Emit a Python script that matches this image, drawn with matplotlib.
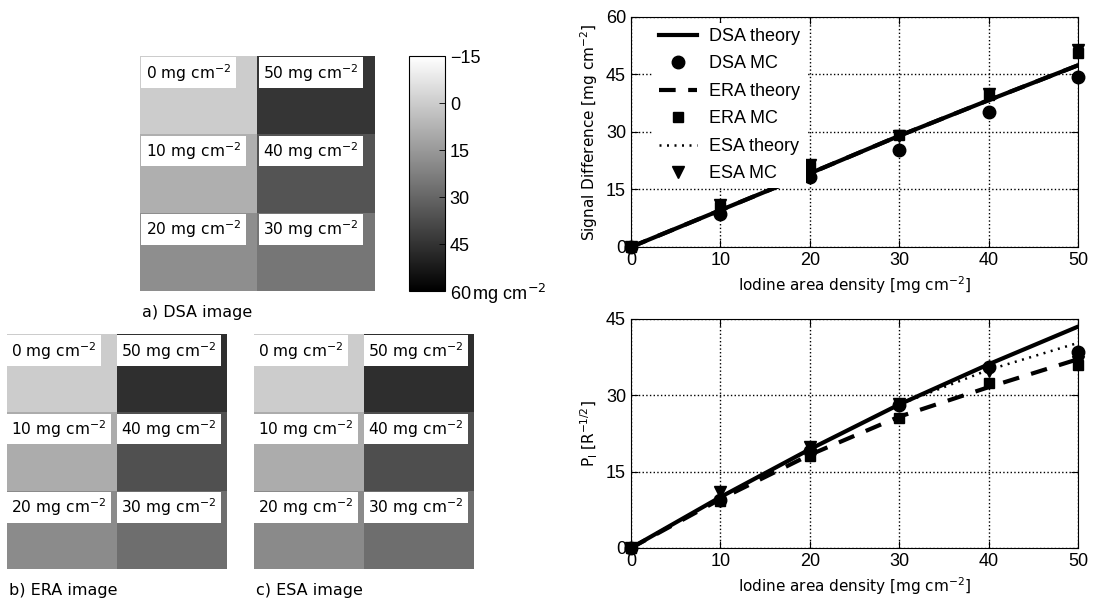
#!/usr/bin/env python3
"""Iodine phantom images (DSA / ERA / ESA) with signal difference and P_I curves."""
import numpy as np
import matplotlib as mpl
import matplotlib.pyplot as plt

mpl.rcParams.update({
    "font.family": "sans-serif", "font.sans-serif": ["Liberation Sans"],
    "mathtext.fontset": "dejavusans",
    "xtick.direction": "in", "ytick.direction": "in",
})

# ---------------- data ----------------
density = [0, 10, 20, 30, 40, 50]

# signal difference [mg cm^-2]
sd_dsa_theory = [0, 9.6, 19.2, 29.0, 38.3, 47.4]
sd_era_theory = [0, 9.6, 19.2, 29.0, 38.3, 47.4]
sd_esa_theory = [0, 9.6, 19.2, 29.0, 38.3, 47.4]
sd_dsa_mc = [0, 8.7, 18.3, 25.2, 35.2, 44.3]
sd_era_mc = [0, 10.4, 20.9, 29.1, 39.6, 50.6]
sd_esa_mc = [0, 10.9, 21.3, 29.0, 40.0, 51.3]

# P_I [R^-1/2]
pi_dsa_theory = [0, 10.0, 19.4, 28.2, 36.1, 43.5]
pi_era_theory = [0, 9.6, 18.3, 25.8, 31.6, 37.1]
pi_esa_theory = [0, 10.0, 19.4, 28.2, 35.0, 40.3]
pi_dsa_mc = [0, 9.5, 19.0, 28.1, 35.6, 38.6]
pi_era_mc = [0, 9.2, 18.0, 25.5, 32.4, 36.0]
pi_esa_mc = [0, 11.1, 19.9, 28.3, 34.7, 36.6]

# phantom layout: rows x columns of iodine inserts, and mean image values
cell_labels = [[0, 50], [10, 40], [20, 30]]
dsa_cells = [[0, 44.3], [8.7, 35.2], [18.3, 25.2]]
era_cells = [[0, 46.0], [9.5, 36.5], [19.0, 27.5]]
esa_cells = [[0, 46.5], [9.5, 37.0], [19.5, 27.5]]

cbar_ticks = [-15, 0, 15, 30, 45, 60]
VMIN, VMAX = -15, 60

fig = plt.figure(figsize=(10.96, 6.07), dpi=100)


def phantom(rect, cells, caption, dx):
    ax = fig.add_axes(rect)
    img = np.kron(np.array(cells, dtype=float), np.ones((40, 40)))
    im = ax.imshow(img, cmap="gray_r", vmin=VMIN, vmax=VMAX, aspect="auto",
                   extent=[0, 2, 3, 0], interpolation="nearest")
    for r, row in enumerate(cell_labels):
        for c, val in enumerate(row):
            ax.text(c + dx, r + 0.075, f"{val} mg cm$^{{-2}}$", fontsize=11.2,
                    ha="left", va="top", family="DejaVu Sans",
                    bbox=dict(facecolor="white", edgecolor="none", pad=3.2))
    ax.set_xticks([])
    ax.set_yticks([])
    for s in ax.spines.values():
        s.set_visible(False)
    ax.text(0.01, -0.06, caption, transform=ax.transAxes, fontsize=11.5,
            family="DejaVu Sans", ha="left", va="top")
    return im


im = phantom([0.1277, 0.5206, 0.2144, 0.3871], dsa_cells, "a) DSA image", 0.05)
phantom([0.0064, 0.0626, 0.2007, 0.3871], era_cells, "b) ERA image", 0.04)
phantom([0.2318, 0.0626, 0.2007, 0.3871], esa_cells, "c) ESA image", 0.04)

# colorbar (inverted: white on top)
cax = fig.add_axes([0.3732, 0.5206, 0.0328, 0.3871])
cb = fig.colorbar(im, cax=cax)
cb.ax.invert_yaxis()
cb.set_ticks(cbar_ticks)
cb.set_ticklabels(["\u221215", "0", "15", "30", "45", "60$\\,$mg cm$^{-2}$"])
cb.ax.tick_params(labelsize=13, direction="in", length=4, width=0.6)
cb.outline.set_linewidth(0.8)


def curve_panel(rect, theo, mc, ylim, yticks, ylabel, legend=False):
    ax = fig.add_axes(rect)
    styles = ["-", (0, (4, 3)), (0, (0.8, 2.2))]
    widths = [3, 3, 1.8]
    markers = ["o", "s", "v"]
    names = ["DSA", "ERA", "ESA"]
    handles = []
    for i in range(3):
        h1, = ax.plot(density, theo[i], color="black", lw=widths[i], ls=styles[i],
                      label=f"{names[i]} theory", zorder=3)
        h2, = ax.plot(density, mc[i], color="black", ls="none", marker=markers[i],
                      markersize=9 if i != 1 else 7, label=f"{names[i]} MC",
                      clip_on=False, zorder=4)
        handles += [h1, h2]
    ax.set_xlim(0, 50)
    ax.set_ylim(*ylim)
    ax.set_xticks(density)
    ax.set_yticks(yticks)
    ax.grid(True, ls=":", color="black", lw=1.0)
    ax.tick_params(labelsize=13, length=5, width=0.8, top=True, right=True)
    ax.set_xlabel("Iodine area density [mg cm$^{-2}$]", fontsize=11,
                  family="DejaVu Sans")
    ax.set_ylabel(ylabel, fontsize=11, family="DejaVu Sans", labelpad=4)
    if legend:
        leg = ax.legend(handles=handles, loc="upper left", bbox_to_anchor=(0.03, 1.015),
                        fontsize=13, frameon=True, fancybox=False, handlelength=2.1,
                        labelspacing=0.58, borderpad=0.3, handletextpad=0.7)
        leg.get_frame().set_edgecolor("none")
        leg.get_frame().set_alpha(1.0)
        leg.set_zorder(5)
    return ax


curve_panel([0.5757, 0.5931, 0.4079, 0.3789],
            [sd_dsa_theory, sd_era_theory, sd_esa_theory],
            [sd_dsa_mc, sd_era_mc, sd_esa_mc],
            (0, 60), [0, 15, 30, 45, 60],
            "Signal Difference [mg cm$^{-2}$]", legend=True)

curve_panel([0.5757, 0.0972, 0.4079, 0.3773],
            [pi_dsa_theory, pi_era_theory, pi_esa_theory],
            [pi_dsa_mc, pi_era_mc, pi_esa_mc],
            (0, 45), [0, 15, 30, 45],
            "P$_\\mathrm{I}$ [R$^{-1/2}$]")

fig.savefig("out.png", dpi=100)
